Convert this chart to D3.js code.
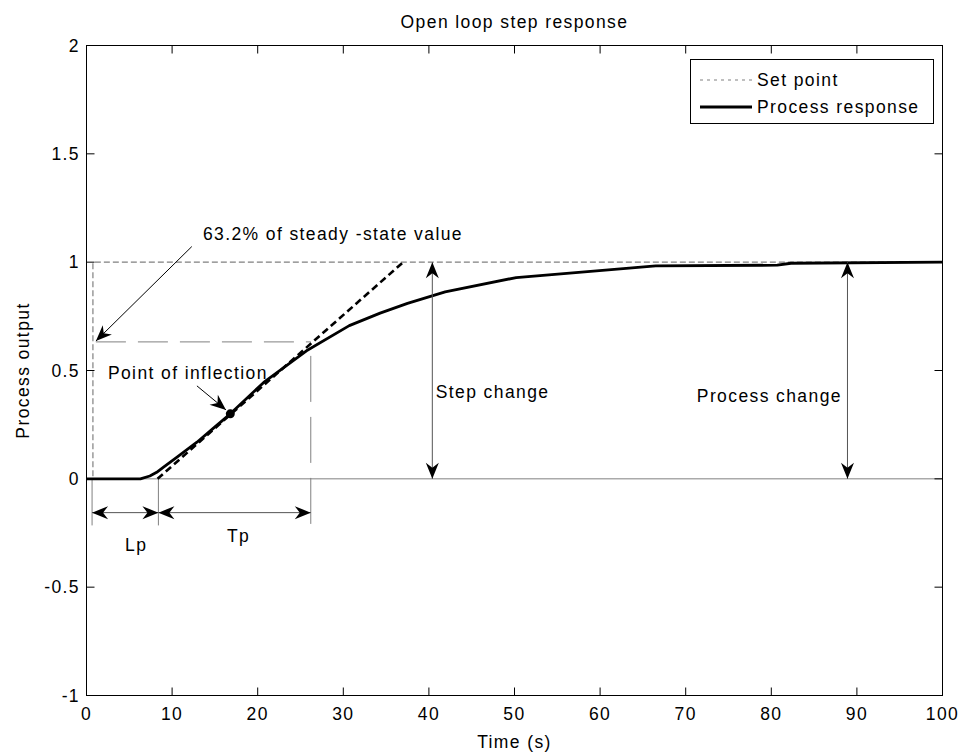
<!DOCTYPE html>
<html>
<head>
<meta charset="utf-8">
<script src="https://cdn.jsdelivr.net/npm/d3@7"></script>
<style>
  body { margin: 0; background: #fff; }
  svg text { font-family: "Liberation Sans", Arial, sans-serif; font-size: 17.5px; letter-spacing: 1.4px; fill: #000; }
</style>
</head>
<body>
<div id="chart"></div>
<script>
// ticks
const xTickValues = [0, 10, 20, 30, 40, 50, 60, 70, 80, 90, 100];
const yTickValues = [-1, -0.5, 0, 0.5, 1, 1.5, 2];

// set point (step at t = 0.75 s)
const setPointT = [0, 0.75, 0.75, 100];
const setPointY = [0, 0, 1, 1];

// process response
const responseT = [0, 6.3, 7.4, 8.2, 9.0, 10.5, 12.9, 14.8, 16.8, 20.7, 25.7, 30.7, 34.3, 37.5, 41.9, 50.2, 62.7, 66.5, 80.7, 82.3, 100];
const responseY = [0, 0, 0.013, 0.03, 0.054, 0.098, 0.169, 0.233, 0.30, 0.445, 0.591, 0.707, 0.765, 0.81, 0.863, 0.929, 0.970, 0.983, 0.986, 0.995, 1.0];

// tangent at the point of inflection
const tangentT = [8.3, 37.0];
const tangentY = [0, 1];
const inflectionPoint = [16.8, 0.30];

// Lp / Tp markers
const lpStart = 0.75, lpEnd = 8.4, tpEnd = 26.2, level632 = 0.632;

const width = 973, height = 754;
const x = d3.scaleLinear().domain([0, 100]).range([86.5, 942.5]);
const y = d3.scaleLinear().domain([-1, 2]).range([695.5, 45.5]);

const svg = d3.select("#chart").append("svg")
  .attr("width", width).attr("height", height);

const zip = (a, b) => a.map((v, i) => [v, b[i]]);
const line = d3.line().x(d => x(d[0])).y(d => y(d[1]));

// zero line
svg.append("line")
  .attr("x1", x(0)).attr("x2", x(100)).attr("y1", y(0)).attr("y2", y(0))
  .attr("stroke", "#808080").attr("stroke-width", 1);

// guide lines
const guides = svg.append("g").attr("stroke", "#808080").attr("stroke-width", 1).attr("fill", "none");
guides.append("line")
  .attr("x1", x(lpStart) + 3).attr("x2", x(tpEnd)).attr("y1", y(level632)).attr("y2", y(level632))
  .attr("stroke-dasharray", "30,12");
guides.append("line")
  .attr("x1", x(tpEnd)).attr("x2", x(tpEnd)).attr("y1", y(level632)).attr("y2", y(-0.215))
  .attr("stroke-dasharray", "46,15").attr("stroke-dashoffset", 47);
[lpStart - 0.1, lpEnd].forEach(t => {
  guides.append("line")
    .attr("x1", x(t)).attr("x2", x(t)).attr("y1", y(0)).attr("y2", y(-0.215));
});

// set point
svg.append("path")
  .attr("d", line(zip(setPointT, setPointY)))
  .attr("fill", "none").attr("stroke", "#808080").attr("stroke-width", 1.2)
  .attr("stroke-dasharray", "6,3");

// process response
svg.append("path")
  .attr("d", line(zip(responseT, responseY)))
  .attr("fill", "none").attr("stroke", "#000").attr("stroke-width", 2.8)
  .attr("stroke-linejoin", "round");

// tangent
svg.append("path")
  .attr("d", line(zip(tangentT, tangentY)))
  .attr("fill", "none").attr("stroke", "#000").attr("stroke-width", 2.6)
  .attr("stroke-dasharray", "7,4");

// inflection dot
svg.append("circle")
  .attr("cx", x(inflectionPoint[0])).attr("cy", y(inflectionPoint[1])).attr("r", 4.5)
  .attr("fill", "#000");

// arrows
function arrowHead(g, tip, from) {
  const ang = Math.atan2(tip[1] - from[1], tip[0] - from[0]);
  const L = 16, hw = 6.5, notch = 11;
  const pt = (a, b) => [tip[0] - a * Math.cos(ang) - b * Math.sin(ang), tip[1] - a * Math.sin(ang) + b * Math.cos(ang)];
  const pts = [tip, pt(L, hw), pt(notch, 0), pt(L, -hw)];
  g.append("path").attr("d", "M" + pts.join("L") + "Z").attr("fill", "#000").attr("stroke", "none");
}
function arrow(p0, p1, color, both) {
  const a = [x(p0[0]), y(p0[1])], b = [x(p1[0]), y(p1[1])];
  const g = svg.append("g");
  g.append("line").attr("x1", a[0]).attr("y1", a[1]).attr("x2", b[0]).attr("y2", b[1])
    .attr("stroke", color).attr("stroke-width", 1);
  arrowHead(g, b, a);
  if (both) arrowHead(g, a, b);
}
arrow([12.3, 1.072], [1.1, 0.636], "#000", false);
arrow([12.9, 0.429], [16.3, 0.318], "#000", false);
arrow([40.4, 0], [40.4, 1], "#555", true);
arrow([88.9, 0], [88.9, 1], "#555", true);
arrow([lpStart - 0.1, -0.156], [lpEnd, -0.156], "#555", true);
arrow([lpEnd, -0.156], [tpEnd, -0.156], "#555", true);

// annotation texts
const notes = [
  ["63.2% of steady -state value", 13.6, 1.102],
  ["Point of inflection", 2.5, 0.461],
  ["Step change", 40.8, 0.373],
  ["Process change", 71.3, 0.354],
  ["Lp", 4.5, -0.332],
  ["Tp", 16.4, -0.29]
];
svg.append("g").selectAll("text").data(notes).join("text")
  .attr("x", d => x(d[1])).attr("y", d => y(d[2])).text(d => d[0]);

// frame and ticks
const frame = svg.append("g");
frame.append("rect")
  .attr("x", x(0)).attr("y", y(2)).attr("width", x(100) - x(0)).attr("height", y(-1) - y(2))
  .attr("fill", "none").attr("stroke", "#000").attr("stroke-width", 1);

const tickLen = 8;
xTickValues.forEach(v => {
  frame.append("line").attr("x1", x(v)).attr("x2", x(v)).attr("y1", y(-1)).attr("y2", y(-1) - tickLen).attr("stroke", "#000");
  frame.append("line").attr("x1", x(v)).attr("x2", x(v)).attr("y1", y(2)).attr("y2", y(2) + tickLen).attr("stroke", "#000");
});
yTickValues.forEach(v => {
  frame.append("line").attr("x1", x(0)).attr("x2", x(0) + tickLen).attr("y1", y(v)).attr("y2", y(v)).attr("stroke", "#000");
  frame.append("line").attr("x1", x(100)).attr("x2", x(100) - tickLen).attr("y1", y(v)).attr("y2", y(v)).attr("stroke", "#000");
});

svg.append("g").selectAll("text").data(xTickValues).join("text")
  .attr("x", d => x(d)).attr("y", 720).attr("text-anchor", "middle").text(d => d);
svg.append("g").selectAll("text").data(yTickValues).join("text")
  .attr("x", 80).attr("y", d => y(d) + 6).attr("text-anchor", "end").text(d => d);

// titles
svg.append("text").attr("x", (x(0) + x(100)) / 2).attr("y", 28).attr("text-anchor", "middle")
  .text("Open loop step response");
svg.append("text").attr("x", (x(0) + x(100)) / 2).attr("y", 748).attr("text-anchor", "middle")
  .text("Time (s)");
svg.append("text")
  .attr("transform", `translate(29,${(y(-1) + y(2)) / 2}) rotate(-90)`)
  .attr("text-anchor", "middle").text("Process output");

// legend
const legendItems = [
  { name: "Set point", color: "#808080", width: 1.2, dash: "3,4" },
  { name: "Process response", color: "#000", width: 2.8, dash: null }
];
const lg = svg.append("g");
lg.append("rect").attr("x", 690.5).attr("y", 59.5).attr("width", 243).attr("height", 64)
  .attr("fill", "#fff").attr("stroke", "#000");
legendItems.forEach((d, i) => {
  const cy = 80 + i * 27;
  lg.append("line").attr("x1", 700).attr("x2", 752).attr("y1", cy).attr("y2", cy)
    .attr("stroke", d.color).attr("stroke-width", d.width).attr("stroke-dasharray", d.dash);
  lg.append("text").attr("x", 757).attr("y", cy + 6).text(d.name);
});
</script>
</body>
</html>
